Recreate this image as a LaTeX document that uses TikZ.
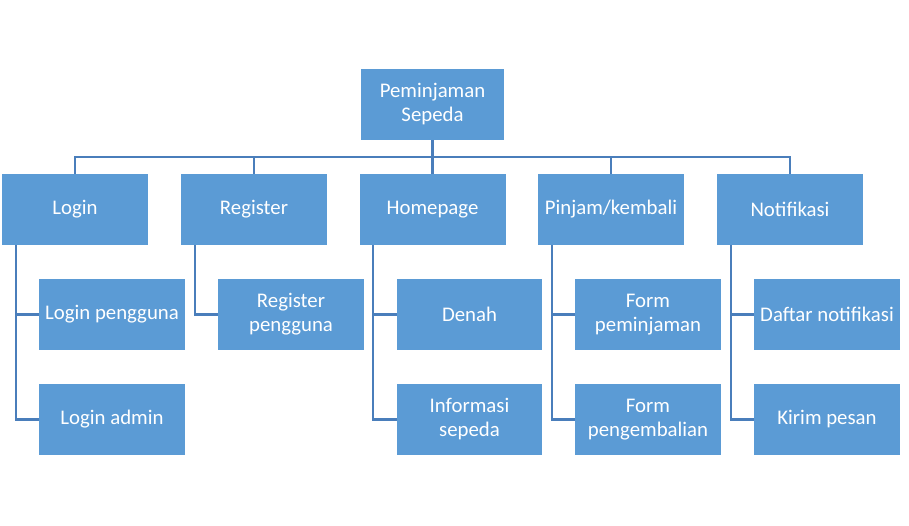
\documentclass[tikz,border=0pt]{standalone}
\usepackage{fontspec}
\setmainfont{Carlito}
\definecolor{boxblue}{HTML}{5B9BD5}
\definecolor{lineblue}{HTML}{4A7EBB}
\begin{document}
\begin{tikzpicture}[x=1pt,y=-1pt,
  box/.style={fill=boxblue,draw=none,minimum width=146pt,minimum height=71pt,inner sep=2pt,
    text=white,align=center,font=\fontsize{20.8}{24}\selectfont},
  conn/.style={draw=lineblue,line width=2.2pt}]
\useasboundingbox (0,0) rectangle (909,525);
\node[box,minimum width=143pt] (root) at (432.5,104.5) {Peminjaman\\Sepeda};
\node[box] (login) at (75,209.5) {Login};
\node[box] (reg) at (254,209.5) {Register};
\node[box] (home) at (432.5,209.5) {Homepage};
\node[box] (pinj) at (611,209.5) {Pinjam/kembali};
\node[box] (notif) at (790,209.5) {Notifikasi};
\node[box] (lp) at (112,314.5) {Login pengguna};
\node[box] (la) at (112,419.5) {Login admin};
\node[box] (rp) at (291,314.5) {Register\\pengguna};
\node[box,minimum width=145pt] (den) at (469.5,314.5) {Denah};
\node[box,minimum width=145pt] (inf) at (469.5,419.5) {Informasi\\sepeda};
\node[box] (fp) at (648,314.5) {Form\\peminjaman};
\node[box] (fk) at (648,419.5) {Form\\pengembalian};
\node[box] (dn) at (827,314.5) {Daftar notifikasi};
\node[box] (kp) at (827,419.5) {Kirim pesan};
% bus
\coordinate (bus) at (432.5,157);
\draw[conn] (root.south) -- (root.south |- home.north);
\draw[conn] (login.north) |- (bus) -| (notif.north);
\draw[conn] (reg.north) -- (reg.north |- bus);
\draw[conn] (pinj.north) -- (pinj.north |- bus);
% children
\foreach \p/\a/\b in {login/lp/la, home/den/inf, pinj/fp/fk, notif/dn/kp}{
  \draw[conn] ([xshift=14pt]\p.south west) |- (\b.west);
  \draw[conn] ([xshift=14pt]\p.south west |- \a.west) -- (\a.west);
}
\draw[conn] ([xshift=14pt]reg.south west) |- (rp.west);
\end{tikzpicture}
\end{document}
